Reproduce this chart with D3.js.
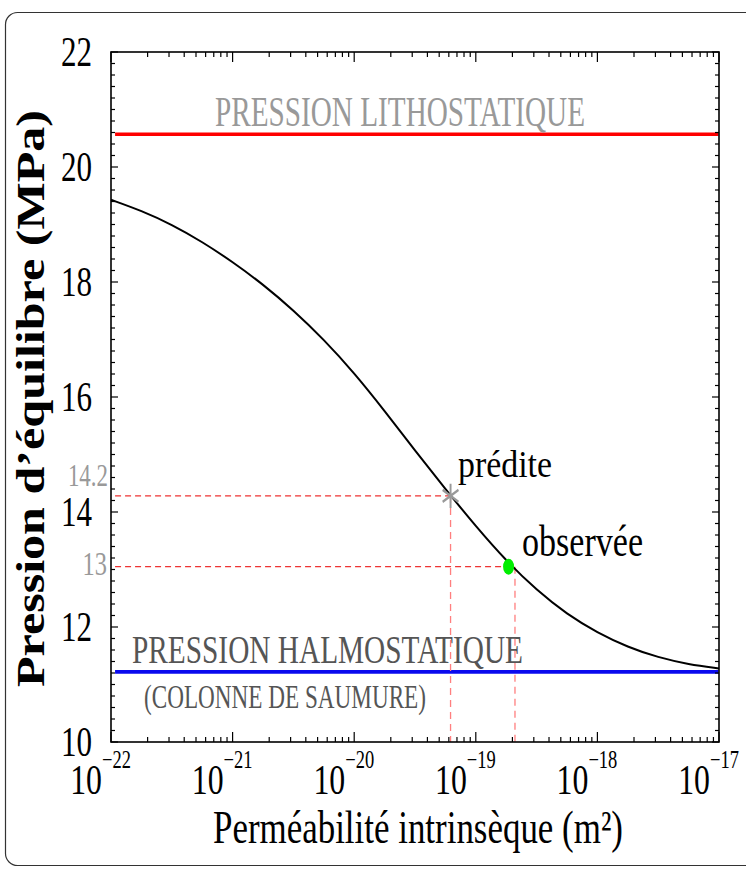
<!DOCTYPE html>
<html><head><meta charset="utf-8">
<script src="https://cdn.jsdelivr.net/npm/d3@7"></script>
<style>html,body{margin:0;padding:0;background:#fff;}svg{display:block;}</style>
</head><body>
<script>
// ---- data ----
const kExp = [-22,-21.75,-21.5,-21.25,-21,-20.75,-20.5,-20.25,-20,-19.75,-19.5,-19.25,-19,-18.75,-18.5,-18.25,-18,-17.75,-17.5,-17.25,-17];
const pressure = [19.43,19.24,19.00,18.70,18.35,17.96,17.51,17.00,16.42,15.76,15.07,14.40,13.75,13.15,12.64,12.22,11.90,11.65,11.47,11.35,11.28];
const lithostatic = 20.57;
const halmostatic = 11.22;
const predicted = {k: 6.2e-20, p: 14.28, label: "14.2"};
const observed = {k: 1.86e-19, kLine: 2.1e-19, p: 13.05, label: "13"};
const xTickExps = [-22,-21,-20,-19,-18,-17];
const yTickVals = [10,12,14,16,18,20,22];

const W = 746, H = 870;
const svg = d3.select("body").append("svg").attr("width", W).attr("height", H);
const FONT = "'Liberation Serif', 'Times New Roman', serif";
const SX = 0.74;

const x = d3.scaleLog().domain([1e-22, 1e-17]).range([111, 719]);
const y = d3.scaleLinear().domain([10, 22]).range([742, 52]);

// outer rounded frame
svg.append("rect").attr("x", 5.5).attr("y", 12.5).attr("width", 800).attr("height", 853)
  .attr("rx", 12).attr("fill", "none").attr("stroke", "#333").attr("stroke-width", 1.2);

function txt(px, py, str, o) {
  return svg.append("text")
    .attr("transform", `translate(${px},${py}) scale(${o.sx ?? SX},1)`)
    .attr("font-family", FONT).attr("font-size", o.size)
    .attr("fill", o.fill || "#000").attr("text-anchor", o.anchor || "start")
    .attr("font-weight", o.weight || "normal")
    .text(str);
}
function txtL(px, py, str, o) {
  return svg.append("text").attr("x", px).attr("y", py)
    .attr("font-family", FONT).attr("font-size", o.size)
    .attr("fill", o.fill || "#000").attr("font-weight", o.weight || "normal")
    .attr("textLength", o.len).attr("lengthAdjust", "spacingAndGlyphs")
    .text(str);
}

// horizontal reference lines
const xl0 = 1.08e-22, xl1 = 0.99e-17;
svg.append("line").attr("x1", x(xl0)).attr("x2", x(xl1)).attr("y1", y(lithostatic)).attr("y2", y(lithostatic))
  .attr("stroke", "#ff0000").attr("stroke-width", 3.5);
svg.append("line").attr("x1", x(xl0)).attr("x2", x(xl1)).attr("y1", y(halmostatic)).attr("y2", y(halmostatic))
  .attr("stroke", "#0a0aee").attr("stroke-width", 3.8);

// dashed guides
const dashH = {stroke: "#ee3333", w: 1.3, dash: "6,4"};
const dashV = {stroke: "#ff7f7f", w: 1.3, dash: "7,5"};
function dline(x1, y1, x2, y2, s) {
  svg.append("line").attr("x1", x1).attr("y1", y1).attr("x2", x2).attr("y2", y2)
    .attr("stroke", s.stroke).attr("stroke-width", s.w).attr("stroke-dasharray", s.dash);
}
dline(x(xl0), y(predicted.p), x(predicted.k), y(predicted.p), dashH);
dline(x(predicted.k), y(predicted.p), x(predicted.k), y(10), dashV);
dline(x(xl0), y(observed.p), x(observed.k) - 6, y(observed.p), dashH);
dline(x(observed.kLine), y(observed.p), x(observed.kLine), y(10), dashV);

// curve
const curveData = kExp.map((e, i) => [Math.pow(10, e), pressure[i]]);
svg.append("path").datum(curveData)
  .attr("d", d3.line().x(d => x(d[0])).y(d => y(d[1])).curve(d3.curveBasis))
  .attr("fill", "none").attr("stroke", "#000").attr("stroke-width", 2);

// markers
svg.append("path").attr("d", d3.symbol().type(d3.symbolAsterisk).size(420)())
  .attr("transform", `translate(${x(predicted.k)},${y(predicted.p)}) scale(0.75,1)`)
  .attr("stroke", "#999").attr("stroke-width", 2.6).attr("fill", "none");
svg.append("ellipse").attr("cx", x(observed.k)).attr("cy", y(observed.p)).attr("rx", 5.5).attr("ry", 8)
  .attr("fill", "#00ee00");

// plot frame
svg.append("rect").attr("x", x(1e-22)).attr("y", y(22)).attr("width", x(1e-17) - x(1e-22))
  .attr("height", y(10) - y(22)).attr("fill", "none").attr("stroke", "#000").attr("stroke-width", 1.6);

// ticks
const isMajor = d => Math.abs(Math.log10(d) - Math.round(Math.log10(d))) < 1e-6;
const xt = x.ticks();
const tg = svg.append("g").attr("stroke", "#000").attr("stroke-width", 1.2);
xt.forEach(d => {
  const L = isMajor(d) ? 10 : 5;
  tg.append("line").attr("x1", x(d)).attr("x2", x(d)).attr("y1", y(22)).attr("y2", y(22) + L);
  tg.append("line").attr("x1", x(d)).attr("x2", x(d)).attr("y1", y(10)).attr("y2", y(10) - L);
});
y.ticks(60).forEach(v => {
  const maj = Math.abs(v / 2 - Math.round(v / 2)) < 1e-6;
  const L = maj ? 7 : 4;
  tg.append("line").attr("x1", x(1e-22)).attr("x2", x(1e-22) + L).attr("y1", y(v)).attr("y2", y(v));
  tg.append("line").attr("x1", x(1e-17)).attr("x2", x(1e-17) - L).attr("y1", y(v)).attr("y2", y(v));
});

// y tick labels
yTickVals.forEach(v => txt(92, y(v) + 14, String(v), {size: 42, anchor: "end"}));
// x tick labels
xTickExps.forEach(e => {
  const px = x(Math.pow(10, e)) - 9;
  txt(px, 794, "10", {size: 43, anchor: "end"});
  txt(px, 768, "\u2212" + Math.abs(e), {size: 25, anchor: "start"});
});

// annotation values on y axis
txt(108, 486, predicted.label, {size: 31, anchor: "end", fill: "#999"});
txt(107, 575, observed.label, {size: 33, anchor: "end", fill: "#999"});

// text labels
txtL(215, 126, "PRESSION LITHOSTATIQUE", {size: 42, fill: "#999", len: 370});
txtL(132, 663, "PRESSION HALMOSTATIQUE", {size: 41, fill: "#555", len: 391});
txtL(144, 708, "(COLONNE DE SAUMURE)", {size: 33, fill: "#555", len: 282});
txtL(458, 477, "prédite", {size: 38, fill: "#000", len: 94});
txtL(522, 556, "observée", {size: 45, fill: "#000", len: 121});

// axis titles
txtL(213, 843, "Perméabilité intrinsèque (m²)", {size: 47, fill: "#000", len: 410});
svg.append("text").attr("transform", "translate(44,687) rotate(-90)")
  .attr("font-family", FONT).attr("font-size", 41).attr("font-weight", "bold")
  .attr("textLength", 577).attr("lengthAdjust", "spacingAndGlyphs")
  .text("Pression d\u2019équilibre (MPa)");
</script>
</body></html>
